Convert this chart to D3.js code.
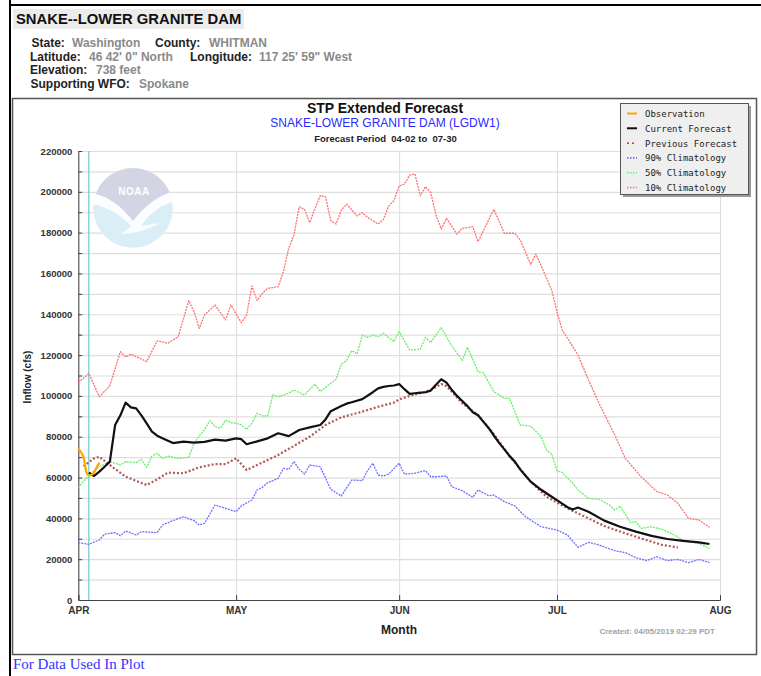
<!DOCTYPE html>
<html>
<head>
<meta charset="utf-8">
<script src="https://cdn.jsdelivr.net/npm/d3@7"></script>
<style>
  body { margin: 0; background: #fff; }
  svg { display: block; font-family: "Liberation Sans", Arial, sans-serif; }
</style>
</head>
<body>
<div id="chart"></div>
<script>
// values (cfs), dates are 2019
const observation = [
  ["04-01 00", 74300], ["04-01 12", 72500], ["04-02 00", 70200], ["04-02 06", 66500],
  ["04-02 12", 62900], ["04-02 18", 61500], ["04-03 06", 61000], ["04-03 18", 61700],
  ["04-04 00", 62500], ["04-04 12", 65000], ["04-05 00", 67300]
];

const currentForecast = [
  ["04-03", 62400], ["04-04", 60760], ["04-05", 62900], ["04-06", 65300], ["04-07", 67800],
  ["04-08", 85750], ["04-09", 90500], ["04-10", 96700], ["04-11", 94400], ["04-12", 93900],
  ["04-13", 90500], ["04-14", 86500], ["04-15", 82500], ["04-16", 80500], ["04-17", 79300],
  ["04-19", 76900], ["04-21", 77600], ["04-23", 77100], ["04-25", 77500], ["04-27", 78600],
  ["04-29", 78100], ["05-01", 79200], ["05-02", 78800], ["05-03", 76300], ["05-05", 77700],
  ["05-07", 79200], ["05-09", 81700], ["05-11", 80300], ["05-13", 83300], ["05-15", 84600],
  ["05-17", 85750], ["05-18", 88500], ["05-19", 92500], ["05-21", 95000], ["05-22", 96200],
  ["05-23", 96900], ["05-25", 98400], ["05-27", 101800], ["05-28", 103700], ["05-29", 104400],
  ["05-30", 104850], ["05-31", 105100], ["06-01", 105800], ["06-02", 103300], ["06-03", 101000],
  ["06-04", 101300], ["06-05", 101600], ["06-06", 101800], ["06-07", 102600], ["06-08", 105500],
  ["06-09", 108150], ["06-10", 106500], ["06-11", 103000], ["06-12", 100000], ["06-13", 97500],
  ["06-14", 95000], ["06-15", 92000], ["06-16", 90500], ["06-17", 87400], ["06-18", 84300],
  ["06-19", 80600], ["06-20", 77000], ["06-21", 73800], ["06-22", 70500], ["06-23", 67800],
  ["06-24", 64000], ["06-25", 61000], ["06-26", 58000], ["06-28", 54000], ["06-30", 50600],
  ["07-01", 48900], ["07-03", 45500], ["07-04", 44300], ["07-05", 45300], ["07-07", 43200],
  ["07-10", 38900], ["07-13", 35900], ["07-16", 33500], ["07-19", 31400], ["07-22", 29900],
  ["07-25", 29000], ["07-28", 28250], ["07-30", 27450]
];

const previousForecast = [
  ["04-02", 65500], ["04-04", 69400], ["04-05", 70200], ["04-07", 66150], ["04-10", 60400],
  ["04-14", 56350], ["04-16", 59100], ["04-18", 62400], ["04-21", 62100], ["04-24", 65000],
  ["04-27", 66600], ["04-29", 66600], ["05-01", 69400], ["05-03", 63700], ["05-05", 66150],
  ["05-09", 71050], ["05-12", 75500], ["05-15", 80000], ["05-18", 85750], ["05-21", 89500],
  ["05-25", 92300], ["05-28", 94700], ["05-31", 96700], ["06-01", 98300], ["06-03", 100000],
  ["06-05", 101300], ["06-07", 102900], ["06-09", 105800], ["06-10", 104800], ["06-11", 102100],
  ["06-13", 96400], ["06-16", 90650], ["06-19", 81300], ["06-22", 70550], ["06-26", 58000],
  ["06-29", 50650], ["07-03", 44900], ["07-07", 40000], ["07-10", 36250], ["07-14", 32650],
  ["07-18", 29400], ["07-21", 26950], ["07-24", 25800]
];

const clim90 = [
  ["04-01", 28100], ["04-03", 27300], ["04-05", 29400], ["04-06", 32300], ["04-08", 33000],
  ["04-09", 31500], ["04-10", 33800], ["04-12", 31850], ["04-13", 33500], ["04-16", 33000],
  ["04-17", 36750], ["04-19", 38900], ["04-21", 40850], ["04-23", 38900], ["04-24", 36750],
  ["04-25", 37600], ["04-27", 46550], ["04-29", 44900], ["05-01", 43300], ["05-02", 46100],
  ["05-04", 49000], ["05-05", 53900], ["05-06", 55200], ["05-07", 57500], ["05-09", 59600],
  ["05-10", 64500], ["05-11", 64000], ["05-12", 67800], ["05-13", 64000], ["05-14", 61700],
  ["05-15", 66150], ["05-17", 65300], ["05-19", 54200], ["05-21", 50950], ["05-23", 58800],
  ["05-25", 58500], ["05-26", 63400], ["05-27", 67000], ["05-28", 61250], ["05-29", 60760],
  ["05-30", 61700], ["06-01", 67000], ["06-02", 61700], ["06-04", 62100], ["06-06", 63400],
  ["06-07", 60400], ["06-08", 60400], ["06-10", 60760], ["06-11", 55500], ["06-13", 53600],
  ["06-15", 50300], ["06-16", 53900], ["06-18", 51100], ["06-19", 51450], ["06-21", 48200],
  ["06-23", 46100], ["06-25", 40850], ["06-28", 35900], ["07-01", 34300], ["07-03", 31850],
  ["07-05", 25800], ["07-07", 28250], ["07-09", 26950], ["07-12", 24150], ["07-14", 23200],
  ["07-16", 20750], ["07-18", 19300], ["07-20", 21200], ["07-22", 19300], ["07-24", 19900],
  ["07-26", 18300], ["07-28", 19900], ["07-30", 18300]
];

const clim50 = [
  ["04-01", 55000], ["04-03", 61250], ["04-05", 65300], ["04-07", 67800], ["04-09", 66150],
  ["04-10", 67800], ["04-12", 67300], ["04-13", 68900], ["04-14", 65000], ["04-15", 70550],
  ["04-16", 71850], ["04-17", 69400], ["04-18", 70550], ["04-20", 69400], ["04-22", 69900],
  ["04-23", 76800], ["04-24", 80350], ["04-25", 83600], ["04-26", 87900], ["04-27", 84900],
  ["04-28", 84100], ["04-29", 88200], ["04-30", 86900], ["05-01", 86600], ["05-02", 85750],
  ["05-03", 83600], ["05-04", 86600], ["05-05", 91500], ["05-06", 90200], ["05-07", 90200],
  ["05-08", 100450], ["05-09", 99600], ["05-11", 101300], ["05-12", 102900], ["05-14", 100450],
  ["05-16", 105800], ["05-17", 102100], ["05-19", 106200], ["05-20", 108150], ["05-21", 115600],
  ["05-22", 117300], ["05-23", 122200], ["05-24", 120500], ["05-25", 129850], ["05-26", 128700],
  ["05-27", 129850], ["05-28", 129000], ["05-29", 130700], ["05-31", 126600], ["06-01", 131500],
  ["06-03", 122500], ["06-05", 122800], ["06-06", 128700], ["06-07", 126100], ["06-09", 133500],
  ["06-11", 124500], ["06-13", 117300], ["06-14", 123800], ["06-16", 111900], ["06-17", 111400],
  ["06-19", 102100], ["06-21", 98800], ["06-22", 98800], ["06-24", 85750], ["06-26", 85260],
  ["06-28", 80000], ["06-29", 73500], ["06-30", 71500], ["07-01", 63400], ["07-02", 62400],
  ["07-04", 57200], ["07-05", 53900], ["07-07", 49800], ["07-09", 49300], ["07-11", 46550],
  ["07-12", 44100], ["07-13", 46100], ["07-15", 37900], ["07-16", 38400], ["07-17", 35100],
  ["07-19", 35900], ["07-21", 34600], ["07-23", 32300], ["07-25", 29100], ["07-28", 27800],
  ["07-30", 25300]
];

const clim10 = [
  ["04-01", 106500], ["04-03", 111000], ["04-05", 99600], ["04-07", 105000], ["04-09", 121700],
  ["04-10", 119000], ["04-11", 120500], ["04-14", 116800], ["04-16", 127000], ["04-18", 125800],
  ["04-20", 129000], ["04-22", 146700], ["04-23", 141300], ["04-24", 133100], ["04-25", 139650],
  ["04-27", 144550], ["04-29", 137200], ["04-30", 144550], ["05-02", 135900], ["05-03", 139650],
  ["05-04", 153860], ["05-05", 146700], ["05-06", 150300], ["05-07", 152700], ["05-09", 153500],
  ["05-10", 160900], ["05-11", 172300], ["05-12", 178850], ["05-13", 192700], ["05-14", 191400],
  ["05-15", 184900], ["05-16", 191900], ["05-17", 198100], ["05-18", 197600], ["05-19", 185900],
  ["05-20", 184200], ["05-21", 191100], ["05-22", 194000], ["05-24", 188200], ["05-25", 189800],
  ["05-26", 187500], ["05-28", 184200], ["05-29", 186500], ["05-30", 193000], ["05-31", 195700],
  ["06-01", 202900], ["06-02", 203800], ["06-03", 208200], ["06-04", 208700], ["06-05", 198100],
  ["06-06", 202500], ["06-07", 199700], ["06-08", 188650], ["06-09", 181800], ["06-10", 187000],
  ["06-12", 179300], ["06-13", 182100], ["06-15", 182900], ["06-16", 175600], ["06-19", 191400],
  ["06-21", 179700], ["06-23", 179700], ["06-24", 176400], ["06-26", 164500], ["06-27", 169500],
  ["06-28", 163700], ["06-30", 151900], ["07-01", 141300], ["07-02", 132300], ["07-05", 120050],
  ["07-07", 107800], ["07-09", 96400], ["07-12", 80850], ["07-14", 69400], ["07-17", 60400],
  ["07-20", 53100], ["07-22", 51450], ["07-24", 47400], ["07-26", 40000], ["07-28", 39200],
  ["07-30", 35600]
];

const yTicks = d3.range(0, 220001, 20000);
const yGrid = d3.range(10000, 220001, 10000);
const legendLabels = ["Observation", "Current Forecast", "Previous Forecast",
  "90% Climatology", "50% Climatology", "10% Climatology"];
const forecastStart = "2019-04-03";

const station = {
  title: "SNAKE--LOWER GRANITE DAM",
  state: "Washington", county: "WHITMAN",
  lat: "46 42' 0\" North", lon: "117 25' 59\" West",
  elev: "738 feet", wfo: "Spokane"
};

const parseDay = d3.utcParse("%Y-%m-%d");
const parseHour = d3.utcParse("%Y-%m-%d %H");
const toPoints = (arr, parse) => arr.map(([d, v]) => ({ date: parse("2019-" + d), value: v }));

const W = 761, H = 676;
const svg = d3.select("#chart").append("svg").attr("width", W).attr("height", H);

// page borders
svg.append("rect").attr("x", 9).attr("y", 0).attr("width", 2).attr("height", H).attr("fill", "#000");
svg.append("rect").attr("x", 9).attr("y", 4).attr("width", W - 9).attr("height", 2).attr("fill", "#000");

// station header
svg.append("rect").attr("x", 13).attr("y", 9).attr("width", 231).attr("height", 20).attr("fill", "#ececec");
svg.append("text").attr("x", 16).attr("y", 23.5).attr("font-size", 14.8).attr("font-weight", "bold")
  .attr("fill", "#111").text(station.title);

const info = svg.append("g").attr("font-size", 12).attr("font-weight", "bold");
const infoRows = [
  [[31.5, "State:", 1], [72, station.state, 0], [155, "County:", 1], [209, station.county, 0]],
  [[30, "Latitude:", 1], [89, station.lat, 0], [190, "Longitude:", 1], [259, station.lon, 0]],
  [[30, "Elevation:", 1], [96, station.elev, 0]],
  [[30.5, "Supporting WFO:", 1], [139, station.wfo, 0]]
];
infoRows.forEach((row, i) => {
  row.forEach(([x, t, isLabel]) => {
    info.append("text").attr("x", x).attr("y", 47.3 + i * 13.5)
      .attr("fill", isLabel ? "#222" : "#8a8a8a").text(t);
  });
});

// image frame
svg.append("rect").attr("x", 12.5).attr("y", 98.5).attr("width", 744).attr("height", 556)
  .attr("fill", "#fff").attr("stroke", "#555").attr("stroke-width", 1.5);

// scales
const x = d3.scaleUtc().domain([Date.UTC(2019, 3, 1), Date.UTC(2019, 7, 1)]).range([78.3, 720]);
const y = d3.scaleLinear().domain([0, 220000]).range([600, 151]);

// titles
svg.append("text").attr("x", 385).attr("y", 112.5).attr("text-anchor", "middle")
  .attr("font-size", 14).attr("font-weight", "bold").attr("fill", "#111").text("STP Extended Forecast");
svg.append("text").attr("x", 385).attr("y", 126.5).attr("text-anchor", "middle")
  .attr("font-size", 12).attr("fill", "#2a2aff").text("SNAKE-LOWER GRANITE DAM (LGDW1)");
svg.append("text").attr("x", 385.5).attr("y", 141.5).attr("text-anchor", "middle")
  .attr("font-size", 9.5).attr("font-weight", "bold").attr("fill", "#222")
  .style("white-space", "pre").text("Forecast Period  04-02 to  07-30");

// gridlines
svg.append("g").attr("transform", "translate(78.3,0)")
  .call(d3.axisLeft(y).tickValues(yGrid).tickSize(-(720 - 78.3)).tickFormat(""))
  .call(g => g.select(".domain").remove())
  .call(g => g.selectAll("line").attr("stroke", "#dedede").attr("stroke-width", 1.2));
svg.append("g").attr("transform", "translate(0,600)")
  .call(d3.axisBottom(x).ticks(d3.utcMonth).tickSize(-449).tickFormat(""))
  .call(g => g.select(".domain").remove())
  .call(g => g.selectAll("line").attr("stroke", "#dcdcdc").attr("stroke-width", 1));

// NOAA logo watermark
const logo = svg.append("g");
logo.append("clipPath").attr("id", "logoClip").append("circle").attr("cx", 133).attr("cy", 208).attr("r", 40);
const lg = logo.append("g").attr("clip-path", "url(#logoClip)");
lg.append("circle").attr("cx", 133).attr("cy", 208).attr("r", 40).attr("fill", "#d9eef7");
lg.append("path").attr("fill", "#fbfdfe")
  .attr("d", "M88,192 Q114,196 133,221 Q152,196 178,190 L178,200 Q154,206 141,226 L160,223 Q143,233 121,234 Q129,229 131,226 Q112,206 88,204 Z");
lg.append("path").attr("fill", "#d4d5e4")
  .attr("d", "M88,160 H178 V190 Q152,196 133,221 Q114,196 88,192 Z");
logo.append("text").attr("x", 134).attr("y", 195).attr("text-anchor", "middle")
  .attr("font-size", 10).attr("font-weight", "bold").attr("letter-spacing", 0.5)
  .attr("fill", "#fff").text("NOAA");

// forecast start marker
svg.append("line").attr("x1", x(parseDay(forecastStart))).attr("x2", x(parseDay(forecastStart)))
  .attr("y1", 151).attr("y2", 600).attr("stroke", "#6cc8cc").attr("stroke-width", 1.2);

// axes
const yAxis = svg.append("g").attr("transform", "translate(78.3,0)")
  .call(d3.axisLeft(y).tickValues(yTicks).tickSize(0).tickPadding(6).tickFormat(d3.format("d")));
yAxis.select(".domain").attr("stroke", "#444");
yAxis.selectAll("text").attr("font-size", 9.5).attr("font-weight", "bold").attr("fill", "#333")
  .attr("font-family", "Liberation Sans, Arial, sans-serif");
svg.append("g").attr("transform", "translate(78.3,0)")
  .call(d3.axisRight(y).tickValues(yGrid).tickSize(4).tickFormat(""))
  .call(g => g.select(".domain").remove())
  .call(g => g.selectAll("line").attr("stroke", "#444"));

const xAxis = svg.append("g").attr("transform", "translate(0,600)")
  .call(d3.axisBottom(x).ticks(d3.utcMonth).tickSize(-5).tickPadding(7)
    .tickFormat(d => d3.utcFormat("%b")(d).toUpperCase()));
xAxis.select(".domain").attr("stroke", "#444");
xAxis.selectAll("line").attr("stroke", "#444");
xAxis.selectAll("text").attr("font-size", 10).attr("font-weight", "bold").attr("fill", "#333")
  .attr("font-family", "Liberation Sans, Arial, sans-serif");

svg.append("text").attr("x", 399).attr("y", 634).attr("text-anchor", "middle")
  .attr("font-size", 12).attr("font-weight", "bold").attr("fill", "#222").text("Month");
svg.append("text").attr("transform", "translate(30.5,377) rotate(-90)").attr("text-anchor", "middle")
  .attr("font-size", 10).attr("font-weight", "bold").attr("fill", "#222").text("Inflow (cfs)");
svg.append("text").attr("x", 715).attr("y", 634).attr("text-anchor", "end")
  .attr("font-size", 8).attr("font-weight", "bold").attr("fill", "#a3a3a3")
  .text("Created: 04/05/2019 02:29 PDT");

// series
const line = d3.line().x(d => x(d.date)).y(d => y(d.value));
const styles = {
  clim10: { stroke: "#ff7070", width: 1.3, dash: "2,1" },
  clim50: { stroke: "#66ee66", width: 1.3, dash: "2,1" },
  clim90: { stroke: "#7070ff", width: 1.3, dash: "2,1" },
  prev: { stroke: "#b05858", width: 2.2, dash: "2,2" },
  curr: { stroke: "#111", width: 2.2, dash: null },
  obs: { stroke: "#ffa500", width: 2.2, dash: null }
};
const seriesList = [
  [toPoints(clim10, parseDay), styles.clim10],
  [toPoints(clim50, parseDay), styles.clim50],
  [toPoints(clim90, parseDay), styles.clim90],
  [toPoints(previousForecast, parseDay), styles.prev],
  [toPoints(currentForecast, parseDay), styles.curr],
  [toPoints(observation, parseHour), styles.obs]
];
svg.append("g").selectAll("path").data(seriesList).join("path")
  .attr("d", d => line(d[0]))
  .attr("fill", "none")
  .attr("stroke", d => d[1].stroke)
  .attr("stroke-width", d => d[1].width)
  .attr("stroke-dasharray", d => d[1].dash)
  .attr("stroke-linejoin", "round");

// legend
const legend = svg.append("g").attr("transform", "translate(620,103)");
legend.append("rect").attr("x", 3).attr("y", 3).attr("width", 128).attr("height", 91).attr("fill", "#9a9a9a");
legend.append("rect").attr("x", 0.5).attr("y", 0.5).attr("width", 128).attr("height", 91)
  .attr("fill", "#efefef").attr("stroke", "#555");
const legendStyles = [styles.obs, styles.curr, styles.prev, styles.clim90, styles.clim50, styles.clim10];
legendLabels.forEach((label, i) => {
  const by = 14 + i * 14.8;
  const s = legendStyles[i];
  legend.append("line").attr("x1", 7).attr("x2", 17).attr("y1", by - 3.5).attr("y2", by - 3.5)
    .attr("stroke", s.stroke).attr("stroke-width", s.dash ? 1.6 : 2)
    .attr("stroke-dasharray", s.dash ? (s === styles.prev ? "2,3" : "1.5,1.5") : null);
  legend.append("text").attr("x", 25).attr("y", by)
    .attr("font-family", "DejaVu Sans Mono, monospace").attr("font-size", 9)
    .attr("fill", "#222").text(label);
});

// footer link
svg.append("text").attr("x", 13).attr("y", 668.5).attr("font-family", "Liberation Serif, Times New Roman, serif")
  .attr("font-size", 15).attr("fill", "#3333ff").text("For Data Used In Plot");
</script>
</body>
</html>
